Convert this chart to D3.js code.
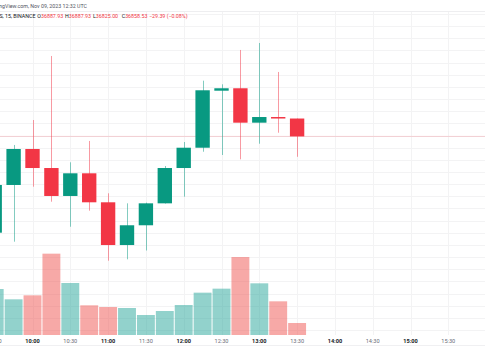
<!DOCTYPE html>
<html>
<head>
<meta charset="utf-8">
<script src="https://cdn.jsdelivr.net/npm/d3@7"></script>
<style>
  body { margin: 0; background: #fff; }
  svg { display: block; font-family: Roboto, "Liberation Sans", sans-serif; }
</style>
</head>
<body>
<svg id="chart" width="485" height="360"></svg>
<script>
// 15 minute candles, BTC/USDT, Nov 09 2023
var times = ["09:30","09:45","10:00","10:15","10:30","10:45","11:00","11:15","11:30",
             "11:45","12:00","12:15","12:30","12:45","13:00","13:15","13:30"];
var opens  = [36700.1, 36778.6, 36837.8, 36806.5, 36760.5, 36797.8, 36750.1, 36679.8, 36712.3,
              36748.4, 36806.5, 36839.9, 36933.7, 36937.7, 36881.1, 36890.4, 36887.93];
var highs  = [36783.5, 36844.4, 36885.5, 36990.8, 36815.9, 36851.0, 36764.9, 36748.4, 36749.5,
              36809.8, 36849.3, 36950.2, 36944.2, 37000.7, 37012.2, 36964.5, 36887.93];
var lows   = [36694.7, 36685.3, 36775.8, 36751.1, 36709.9, 36736.3, 36654.0, 36656.3, 36670.8,
              36748.0, 36759.3, 36833.3, 36827.9, 36820.8, 36846.5, 36864.6, 36825.00];
var closes = [36778.6, 36837.8, 36806.5, 36760.5, 36797.8, 36750.1, 36679.8, 36712.3, 36748.4,
              36806.5, 36839.9, 36934.4, 36937.7, 36881.1, 36890.4, 36887.93, 36858.53];
var volumes = [690, 535, 595, 1220, 780, 445, 420, 405, 300, 360, 450, 635, 695, 1170, 775, 505, 180];

var axisTimes = ["09:30","10:00","10:30","11:00","11:30","12:00","12:30","13:00",
                 "13:30","14:00","14:30","15:00","15:30"];

var up = "#089981", down = "#f23645";
var volUp = "rgba(38,166,154,0.5)", volDown = "rgba(239,83,80,0.5)";

function toDate(t) {
  var p = t.split(":");
  return new Date(Date.UTC(2023, 10, 9, +p[0], +p[1]));
}

var candles = times.map(function (t, i) {
  return { t: toDate(t), o: opens[i], h: highs[i], l: lows[i], c: closes[i], v: volumes[i] };
});

var svg = d3.select("#chart");
var paneTop = 11, paneBottom = 335;

var x = d3.scaleUtc()
  .domain([toDate("10:00"), toDate("15:30")])
  .range([32.5, 448.3]);
var step = x(toDate("10:15")) - x(toDate("10:00"));

var y = d3.scaleLinear().domain([36540, 36860]).range([330, 135.5]);
var yv = d3.scaleLinear().domain([0, 1500]).range([paneBottom, 235]);

// grid
var grid = svg.append("g");
var gridPrices = d3.range(36300, 37200, 20).filter(function (p) {
  return y(p) > paneTop + 1 && y(p) < paneBottom;
});
grid.selectAll("line.h").data(gridPrices).enter().append("line")
  .attr("x1", 0).attr("x2", 485)
  .attr("y1", function (d) { return Math.round(y(d)) + 0.5; })
  .attr("y2", function (d) { return Math.round(y(d)) + 0.5; })
  .attr("stroke", "#f3f3f4");
grid.selectAll("line.v").data(axisTimes).enter().append("line")
  .attr("x1", function (d) { return Math.round(x(toDate(d))) + 0.5; })
  .attr("x2", function (d) { return Math.round(x(toDate(d))) + 0.5; })
  .attr("y1", paneTop).attr("y2", paneBottom)
  .attr("stroke", "#f3f3f4");
grid.append("line").attr("x1", 0).attr("x2", 485)
  .attr("y1", paneTop + 0.5).attr("y2", paneTop + 0.5).attr("stroke", "#eeeef0");
grid.append("line").attr("x1", 0).attr("x2", 485)
  .attr("y1", 345.5).attr("y2", 345.5).attr("stroke", "#f0f0f2");

// volume
svg.append("g").selectAll("rect").data(candles).enter().append("rect")
  .attr("x", function (d) { return x(d.t) - step / 2 + 0.5; })
  .attr("width", step - 1)
  .attr("y", function (d) { return yv(d.v); })
  .attr("height", function (d) { return paneBottom - yv(d.v); })
  .attr("fill", function (d) { return d.c >= d.o ? volUp : volDown; });

// last price line
var last = candles[candles.length - 1];
svg.append("line")
  .attr("x1", 0).attr("x2", 485)
  .attr("y1", y(last.c)).attr("y2", y(last.c))
  .attr("stroke", down).attr("stroke-opacity", 0.2);

// candles
var cg = svg.append("g").selectAll("g").data(candles).enter().append("g");
cg.append("line")
  .attr("x1", function (d) { return Math.round(x(d.t)) + 0.5; })
  .attr("x2", function (d) { return Math.round(x(d.t)) + 0.5; })
  .attr("y1", function (d) { return y(d.h); })
  .attr("y2", function (d) { return y(d.l); })
  .attr("stroke", function (d) { return d.c >= d.o ? up : down; })
  .attr("stroke-opacity", 0.5);
var bw = step * 0.76;
cg.append("rect")
  .attr("x", function (d) { return x(d.t) - bw / 2; })
  .attr("width", bw)
  .attr("y", function (d) { return y(Math.max(d.o, d.c)); })
  .attr("height", function (d) { return Math.max(1, Math.abs(y(d.o) - y(d.c))); })
  .attr("fill", function (d) { return d.c >= d.o ? up : down; });

// time axis labels
svg.append("g").selectAll("text").data(axisTimes).enter().append("text")
  .attr("x", function (d) { return x(toDate(d)); })
  .attr("y", 342.6)
  .attr("text-anchor", "middle")
  .style("font-size", "5.6px")
  .style("font-weight", function (d) { return d.slice(3) === "00" ? "bold" : "normal"; })
  .attr("fill", function (d) { return d.slice(3) === "00" ? "#131722" : "#6a6d78"; })
  .text(function (d) { return d; });

// header
svg.append("text")
  .attr("x", 87).attr("y", 7.6)
  .attr("text-anchor", "end")
  .style("font-size", "5.3px")
  .attr("fill", "#50535e")
  .text("Published on TradingView.com, Nov 09, 2023 12:32 UTC");
svg.append("text")
  .attr("x", 35.5).attr("y", 18.2)
  .attr("text-anchor", "end")
  .style("font-size", "5.3px")
  .attr("fill", "#131722")
  .text("Bitcoin / TetherUS, 15, BINANCE");

var fmt = d3.format(".2f");
var ohlc = [
  { k: "O", v: fmt(last.o), x: 37.3 },
  { k: "H", v: fmt(last.h), x: 65 },
  { k: "L", v: fmt(last.l), x: 93 },
  { k: "C", v: fmt(last.c), x: 121.7 }
];
var hdr = svg.append("g").style("font-size", "5.3px");
ohlc.forEach(function (d) {
  var t = hdr.append("text").attr("x", d.x).attr("y", 18.2);
  t.append("tspan").attr("fill", "#131722").text(d.k);
  t.append("tspan").attr("fill", down).text(d.v);
});
hdr.append("text").attr("x", 149).attr("y", 18.2).attr("fill", down)
  .text("\u221229.39 (\u22120.08%)");
</script>
</body>
</html>
